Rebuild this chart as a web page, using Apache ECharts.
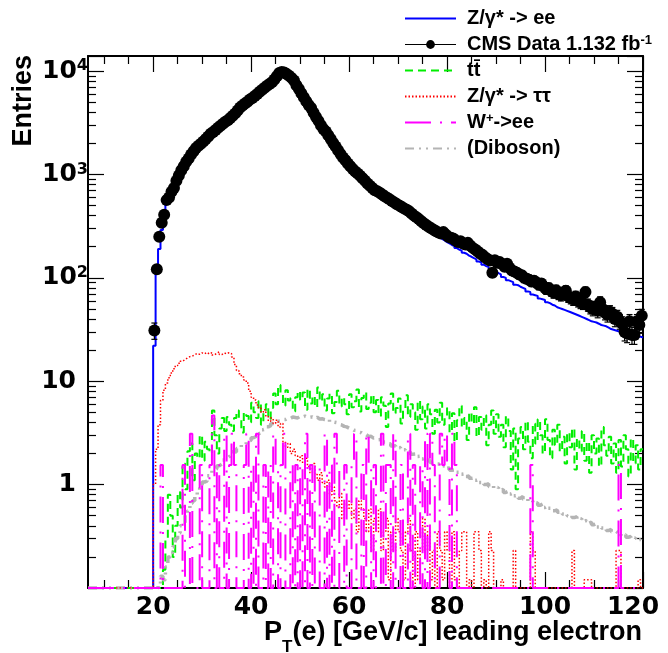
<!DOCTYPE html>
<html><head><meta charset="utf-8">
<script src="https://cdn.jsdelivr.net/npm/echarts@6/dist/echarts.min.js"></script>
<style>html,body{margin:0;padding:0;background:#fff}#c{width:668px;height:653px}</style>
</head><body><div id="c"></div>
<script>
// ---- axis ranges / ticks ----
const binLow = 20, binWidth = 0.5;           // histogram bins: 20..120 GeV, 0.5 GeV wide
const xMin = 6.7, xMax = 120, yMin = 0.1, yMax = 14000;
const xMajorTicks = [20, 40, 60, 80, 100, 120];
const xMinorTicks = [10, 15, 25, 30, 35, 45, 50, 55, 65, 70, 75, 85, 90, 95, 105, 110, 115];
const yLabelDecades = [0, 1, 2, 3, 4];

// ---- series values (one entry per 0.5 GeV bin from 20 to 120) ----
const dataEntries = [
31,121,250,342,408,565,600,680,740,870,
980,1100,1200,1330,1430,1560,1680,1800,1900,1980,
2080,2200,2330,2480,2580,2700,2830,2960,3100,3230,
3350,3520,3700,3900,4150,4450,4650,4850,5050,5300,
5500,5750,6000,6300,6600,6900,7200,7500,7800,8300,
8900,9600,9800,9700,9400,9000,8600,8100,7300,6700,
6100,5600,5100,4700,4400,3950,3600,3300,3000,2750,
2600,2400,2200,2020,1870,1720,1580,1460,1370,1280,
1200,1130,1070,1020,970,920,870,820,780,740,
705,690,665,640,615,595,575,555,535,515,
500,485,470,455,440,420,400,385,370,352,
338,325,312,302,292,283,275,268,277,262,
250,245,240,230,222,226,215,210,218,205,
195,188,180,172,166,158,152,147,112,148,
140,142,136,128,137,125,118,115,112,108,
106,100,98,96,92,94,90,86,88,82,
78,80,75,72,76,70,68,72,75,66,
64,62,66,60,58,57,73,55,52,50,
52,48,58,50,46,44,47,45,40,42,
38,36,30,29,38,28,28,38,35,43];

const zeeMC = [
22,115,190,290,400,520,590,670,740,860,
970,1090,1190,1320,1420,1550,1670,1790,1890,1980,
2080,2200,2330,2470,2580,2700,2830,2960,3100,3230,
3350,3520,3700,3900,4150,4430,4650,4850,5050,5300,
5500,5750,6000,6300,6600,6900,7200,7500,7800,8300,
8800,9500,9750,9650,9350,8950,8500,8000,7250,6600,
6000,5500,5050,4650,4300,3900,3550,3250,2950,2700,
2550,2350,2150,1980,1820,1680,1550,1430,1330,1240,
1160,1090,1030,975,925,880,830,785,745,705,
670,640,610,585,560,540,520,500,482,465,
448,432,416,400,386,372,358,345,332,320,
308,296,285,275,265,256,247,238,230,222,
215,208,203,194,188,183,175,171,164,160,
155,151,144,141,134,130,127,121,118,115,
111,108,102,100,95,93,91,86,85,82,
80,78,74,73,69,68,67,63,62,61,
58,57,55,54,52,51,50,49,48,47,
46,45,44,43,42,41,40,39,38,37.5,
37,36,35,34.5,34,33,32,31.5,31,30.5,
30,29.5,29,28.5,28,28,27.5,27,27,26.5];

const ttbarMC = [
0,0,0,0,0.15,0.3,0.8,0.5,0.2,0.4,
0.85,0.6,1.6,0.9,2.1,2.5,1.1,2.0,1.8,3.0,
1.7,2.6,2.2,2.0,5.2,3.0,2.0,3.5,4.4,3.3,
4.5,3.8,3.3,4.4,5.2,4.2,3.2,5.0,4.6,4.0,
6.2,5.0,4.4,6.4,3.8,5.2,6.0,4.3,5.5,7.6,
6.0,9.2,7.4,5.8,8.2,6.5,6.9,5.1,7.0,8.0,
6.6,7.8,5.3,8.4,6.1,7.2,5.6,8.7,6.4,7.5,
5.2,6.8,7.6,4.9,6.3,8.1,5.7,7.0,6.0,4.8,
7.5,5.6,6.4,8.3,5.1,6.9,7.8,5.4,6.2,7.4,
5.0,6.6,4.6,7.0,5.8,3.6,6.1,7.6,4.9,5.5,
6.8,3.9,5.2,7.3,4.5,6.0,5.0,3.4,6.5,4.3,
5.7,3.5,6.0,4.8,3.1,5.3,4.0,6.2,3.8,4.6,
5.5,3.2,4.9,2.6,4.2,5.8,3.6,4.4,2.7,5.0,
3.9,5.6,2.9,4.5,3.4,4.7,2.4,3.8,5.2,3.1,
4.8,2.9,3.8,2.3,4.6,3.3,1.4,3.5,0.9,2.8,
3.6,2.2,4.1,2.6,1.8,3.9,2.5,4.3,3.0,2.0,
4.3,2.7,1.8,3.4,2.4,3.8,2.1,2.9,1.6,3.2,
2.3,3.5,1.4,2.8,2.1,3.3,1.7,2.6,1.3,3.0,
2.0,2.8,1.5,3.6,2.4,1.9,2.9,1.6,2.5,1.3,
2.7,1.5,3.0,2.2,1.2,2.8,1.6,2.4,1.4,2.2];

const zttMC = [
1.0,2.2,3.8,6.5,8.2,9.6,10.8,12.0,13.2,14.2,
14.9,15.6,16.2,16.8,17.3,17.5,18.0,18.6,18.2,18.8,
18.4,19.0,18.3,18.9,17.9,18.7,19.3,18.1,18.8,18.4,
18.9,18.5,17.2,14.5,12.7,11.8,11.0,10.3,9.6,8.0,
7.0,6.6,5.9,5.5,5.0,5.3,4.6,4.1,4.4,3.9,
4.2,3.6,3.9,2.6,2.3,2.5,2.0,2.2,1.9,1.7,
1.9,1.6,1.8,1.5,1.3,1.6,1.25,1.1,1.3,1.05,
0.95,1.1,0.8,0.95,0.7,0.6,0.82,0.47,0.65,0.58,
0.7,0.47,0.58,0.35,0.7,0.58,0.47,0.35,0.58,0.23,
0.47,0.35,0.58,0.23,0.35,0.47,0.12,0.35,0.23,0.47,
0.35,0.23,0.12,0.35,0.47,0.23,0,0.35,0.12,0.23,
0.47,0.23,0.35,0.12,0.23,0,0.35,0.23,0.12,0.35,
0.23,0,0.35,0.12,0,0.23,0.35,0.35,0,0.12,
0,0.35,0.35,0.23,0,0.12,0,0.35,0.23,0,
0,0,0.12,0,0,0,0,0.23,0,0,
0,0,0,0,0.35,0.23,0,0,0,0,
0,0,0,0,0,0,0,0,0,0,
0,0.23,0,0,0,0,0.12,0.12,0.12,0,
0,0,0,0,0,0,0,0,0,0.23,
0.23,0,0,0,0,0,0,0,0.12,0];

const wenuMC = [
0,0,0,1.55,0,0,0,0,0,0,
0,0,1.55,0,0,3.1,0,0,0,1.55,
0,0,0,1.55,4.65,0,1.55,0,0,3.1,
0,1.55,3.1,1.55,0,0,0,1.55,3.1,0,
1.55,0,3.1,0,0,1.55,0,1.55,0,3.1,
1.55,0,1.55,3.1,0,0,1.55,0,1.55,0,
1.55,0,3.1,0,1.55,0,1.55,1.55,0,0,
3.1,0,1.55,0,3.1,1.55,0,0,1.55,0,
0,1.55,3.1,0,0,1.55,0,3.1,1.55,0,
1.55,0,0,3.1,0,1.55,1.55,0,3.1,0,
0,1.55,0,0,3.1,0,1.55,0,0,1.55,
0,3.1,0,3.1,1.55,0,0,3.1,1.55,3.1,
1.55,0,3.1,1.55,0,0,0,0,0,0,
0,0,0,0,0,0,0,0,0,0,
0,0,0,0,0,0,0,0,0,0,
0,0,0,0,1.55,0,0,0,0,0,
0,0,0,0,0,0,0,0,0,0,
0,0,0,0,0,0,0,0,0,0,
0,0,0,0,0,0,0,0,0,0,
1.55,0,0,0,0,0,0,0,0,0];

const dibosonMC = [
0,0.06,0.11,0.13,0.12,0.16,0.2,0.22,0.25,0.3,
0.34,0.4,0.43,0.52,0.56,0.66,0.7,0.76,0.88,0.93,
1.06,1.08,1.22,1.24,1.37,1.43,1.52,1.58,1.73,1.78,
1.86,1.93,2.08,2.07,2.24,2.28,2.43,2.47,2.64,2.68,
2.84,2.92,3.1,3.16,3.4,3.46,3.62,3.72,3.9,3.96,
4.1,4.12,4.25,4.26,4.4,4.36,4.5,4.46,4.42,4.58,
4.5,4.6,4.46,4.48,4.52,4.36,4.48,4.32,4.34,4.26,
4.22,4.28,4.06,4.02,3.98,3.82,3.78,3.66,3.62,3.52,
3.48,3.36,3.34,3.22,3.18,3.06,3.04,2.92,2.93,2.82,
2.83,2.72,2.73,2.58,2.58,2.47,2.48,2.37,2.38,2.27,
2.28,2.17,2.18,2.07,2.08,1.97,1.98,1.87,1.88,1.77,
1.8,1.72,1.73,1.64,1.65,1.58,1.58,1.51,1.52,1.44,
1.45,1.38,1.39,1.32,1.32,1.26,1.27,1.2,1.21,1.15,
1.16,1.1,1.12,1.05,1.07,1.0,1.02,0.96,0.98,0.92,
0.94,0.88,0.9,0.84,0.86,0.81,0.83,0.78,0.79,0.74,
0.77,0.72,0.73,0.69,0.7,0.66,0.67,0.63,0.65,0.6,
0.62,0.59,0.59,0.56,0.57,0.54,0.55,0.52,0.53,0.5,
0.51,0.48,0.49,0.46,0.47,0.44,0.45,0.425,0.435,0.41,
0.42,0.39,0.4,0.38,0.385,0.36,0.37,0.35,0.355,0.34,
0.345,0.32,0.33,0.31,0.315,0.3,0.305,0.29,0.295,0.28];

// ---- helpers ----
const FONT = '"Liberation Sans", Arial, Helvetica, sans-serif';
const TICKFONT = '"DejaVu Sans", "Liberation Sans", sans-serif';
function stepData(vals) {
  const pts = [[xMin, yMin]];
  vals.forEach((v, i) => pts.push([binLow + i * binWidth, Math.max(v, yMin)]));
  pts.push([binLow + vals.length * binWidth, Math.max(vals[vals.length - 1], yMin)]);
  return pts;
}
const yMinorLog = [];
for (let n = -1; n <= 4; n++) for (let k = 2; k <= 9; k++) {
  const v = k * Math.pow(10, n);
  if (v < yMax) yMinorLog.push(Math.log10(v));
}
const tickStyle = {color: '#000', width: 1.2};
const frameLine = {show: true, onZero: false, lineStyle: {color: '#000', width: 2}};
const noLine = {show: false, onZero: false};

const legendLabels = {
  'Z/γ* -> ee': 'Z/γ* -> ee',
  'CMS Data 1.132 fb-1': 'CMS Data 1.132 fb{s|-1}',
  'tt̄': 'tt̄',
  'Z/γ* -> ττ': 'Z/γ* -> ττ',
  'W+->ee': 'W{s|+}->ee',
  '(Diboson)': '(Diboson)'
};
const noSym = {opacity: 0};

const chart = echarts.init(document.getElementById('c'), null, {renderer: 'canvas'});
chart.setOption({
  animation: false,
  backgroundColor: '#fff',
  grid: {left: 88, right: 25, top: 56, bottom: 65, containLabel: false, outerBoundsMode: 'none'},
  legend: {
    orient: 'vertical', left: 404, top: 8, padding: 0, itemWidth: 51, itemHeight: 11, itemGap: 5,
    selectedMode: false,
    textStyle: {fontFamily: FONT, fontSize: 20, fontWeight: 'bold', color: '#000', lineHeight: 21,
      padding: [0, 0, 0, 6],
      rich: {s: {fontFamily: FONT, fontSize: 13, fontWeight: 'bold', color: '#000', verticalAlign: 'top', lineHeight: 14}}},
    formatter: n => legendLabels[n] || n,
    data: [
      {name: 'Z/γ* -> ee', itemStyle: noSym},
      {name: 'CMS Data 1.132 fb-1', lineStyle: {opacity: 1, width: 1.2, color: '#000', type: 'solid'}, itemStyle: {color: '#000'}},
      {name: 'tt̄', itemStyle: noSym}, {name: 'Z/γ* -> ττ', itemStyle: noSym},
      {name: 'W+->ee', itemStyle: noSym}, {name: '(Diboson)', itemStyle: noSym}
    ]
  },
  graphic: [
    {type: 'text', x: 642, y: 618, silent: true,
     style: {text: '{a|P}{t|T}{a|(e) [GeV/c] leading electron}', align: 'right', verticalAlign: 'top',
       rich: {a: {fontFamily: FONT, fontSize: 27, fontWeight: 'bold', fill: '#000', lineHeight: 30},
              t: {fontFamily: FONT, fontSize: 17, fontWeight: 'bold', fill: '#000', verticalAlign: 'bottom', lineHeight: 14, padding: [0, 0, -8, 0]}}}},
    {type: 'text', x: 24, y: 55, rotation: Math.PI / 2, silent: true,
     style: {text: 'Entries', fontFamily: FONT, fontSize: 27, fontWeight: 'bold', fill: '#000', align: 'right', verticalAlign: 'middle'}}
  ],
  xAxis: [
    {type: 'value', min: xMin, max: xMax, position: 'bottom', axisLine: frameLine,
     axisTick: {inside: true, length: 16, customValues: xMajorTicks, lineStyle: tickStyle},
     axisLabel: {customValues: xMajorTicks, fontFamily: TICKFONT, fontSize: 25, fontWeight: 'bold', color: '#000', margin: 7,
       formatter: v => v === xMax ? '{r|' + v + '}' : String(v),
       rich: {r: {fontFamily: TICKFONT, fontSize: 25, fontWeight: 'bold', color: '#000', padding: [0, 20, 0, 0]}}},
     splitLine: {show: false}},
    {type: 'value', min: xMin, max: xMax, position: 'bottom', axisLine: noLine,
     axisTick: {inside: true, length: 8, customValues: xMinorTicks, lineStyle: tickStyle},
     axisLabel: {show: false}, splitLine: {show: false}},
    {type: 'value', min: xMin, max: xMax, position: 'top', axisLine: frameLine,
     axisTick: {inside: true, length: 16, customValues: xMajorTicks, lineStyle: tickStyle},
     axisLabel: {show: false}, splitLine: {show: false}},
    {type: 'value', min: xMin, max: xMax, position: 'top', axisLine: noLine,
     axisTick: {inside: true, length: 8, customValues: xMinorTicks, lineStyle: tickStyle},
     axisLabel: {show: false}, splitLine: {show: false}}
  ],
  yAxis: [
    {type: 'log', logBase: 10, min: yMin, max: yMax, position: 'left', axisLine: frameLine,
     axisTick: {inside: true, length: 16, lineStyle: tickStyle},
     splitLine: {show: false},
     axisLabel: {margin: 0, fontFamily: TICKFONT, color: '#000',
       formatter: v => {
         const l = Math.log10(v), e = Math.round(l);
         if (Math.abs(l - e) > 1e-6 || yLabelDecades.indexOf(e) < 0) return '';
         if (e === 0) return '{b|1}{p|}';
         if (e === 1) return '{b|10}{p|}';
         return '{b|10}{s|' + e + '}';
       },
       rich: {b: {fontFamily: TICKFONT, fontSize: 25, fontWeight: 'bold', color: '#000', lineHeight: 26},
              s: {fontFamily: TICKFONT, fontSize: 16, fontWeight: 'bold', color: '#000', verticalAlign: 'top', lineHeight: 16},
              p: {width: 12}}}},
    {type: 'log', logBase: 10, min: yMin, max: yMax, position: 'right', axisLine: frameLine,
     axisTick: {inside: true, length: 16, lineStyle: tickStyle},
     axisLabel: {show: false}, splitLine: {show: false}},
    {type: 'value', min: Math.log10(yMin), max: Math.log10(yMax), position: 'left', axisLine: noLine,
     axisTick: {inside: true, length: 8, customValues: yMinorLog, lineStyle: tickStyle},
     axisLabel: {show: false}, splitLine: {show: false}},
    {type: 'value', min: Math.log10(yMin), max: Math.log10(yMax), position: 'right', axisLine: noLine,
     axisTick: {inside: true, length: 8, customValues: yMinorLog, lineStyle: tickStyle},
     axisLabel: {show: false}, splitLine: {show: false}}
  ],
  series: [
    {name: 'Z/γ* -> ee', type: 'line', step: 'end', symbol: 'none', data: stepData(zeeMC),
     color: '#0000ff', lineStyle: {color: '#0000ff', width: 2}, z: 3},
    {name: 'tt̄', type: 'line', step: 'end', symbol: 'none', data: stepData(ttbarMC),
     color: '#00ee00', lineStyle: {color: '#00ee00', width: 2, type: [8, 5]}, z: 4},
    {name: 'Z/γ* -> ττ', type: 'line', step: 'end', symbol: 'none', data: stepData(zttMC),
     color: '#ff0000', lineStyle: {color: '#ff0000', width: 1.5, type: [1.5, 2]}, z: 5},
    {name: 'W+->ee', type: 'line', step: 'end', symbol: 'none', data: stepData(wenuMC),
     color: '#ff00ff', lineStyle: {color: '#ff00ff', width: 2, type: [26, 9, 2, 9]}, z: 6},
    {name: '(Diboson)', type: 'line', step: 'end', symbol: 'none', data: stepData(dibosonMC),
     color: '#b4b4b4', lineStyle: {color: '#b4b4b4', width: 3.5, type: [9, 5, 2, 5, 2, 5]}, z: 4},
    {name: 'CMS Data 1.132 fb-1', type: 'line', symbol: 'circle', symbolSize: 12, showSymbol: true,
     data: dataEntries.map((v, i) => [binLow + (i + 0.5) * binWidth, v]),
     color: '#000', itemStyle: {color: '#000'}, lineStyle: {opacity: 0, width: 0}, z: 10},
    {type: 'custom', z: 9, silent: true,
     data: dataEntries.map((v, i) => [binLow + (i + 0.5) * binWidth, v, Math.max(v - Math.sqrt(v), yMin), v + Math.sqrt(v)]),
     encode: {x: 0, y: 1},
     renderItem: (params, api) => {
       const x = api.value(0);
       const lo = api.coord([x, api.value(2)]), hi = api.coord([x, api.value(3)]);
       const st = {stroke: '#000', lineWidth: 1.2};
       return {type: 'group', children: [
         {type: 'line', shape: {x1: lo[0], y1: lo[1], x2: hi[0], y2: hi[1]}, style: st},
         {type: 'line', shape: {x1: lo[0] - 3, y1: lo[1], x2: lo[0] + 3, y2: lo[1]}, style: st},
         {type: 'line', shape: {x1: hi[0] - 3, y1: hi[1], x2: hi[0] + 3, y2: hi[1]}, style: st}
       ]};
     }}
  ]
});
</script>
</body></html>
